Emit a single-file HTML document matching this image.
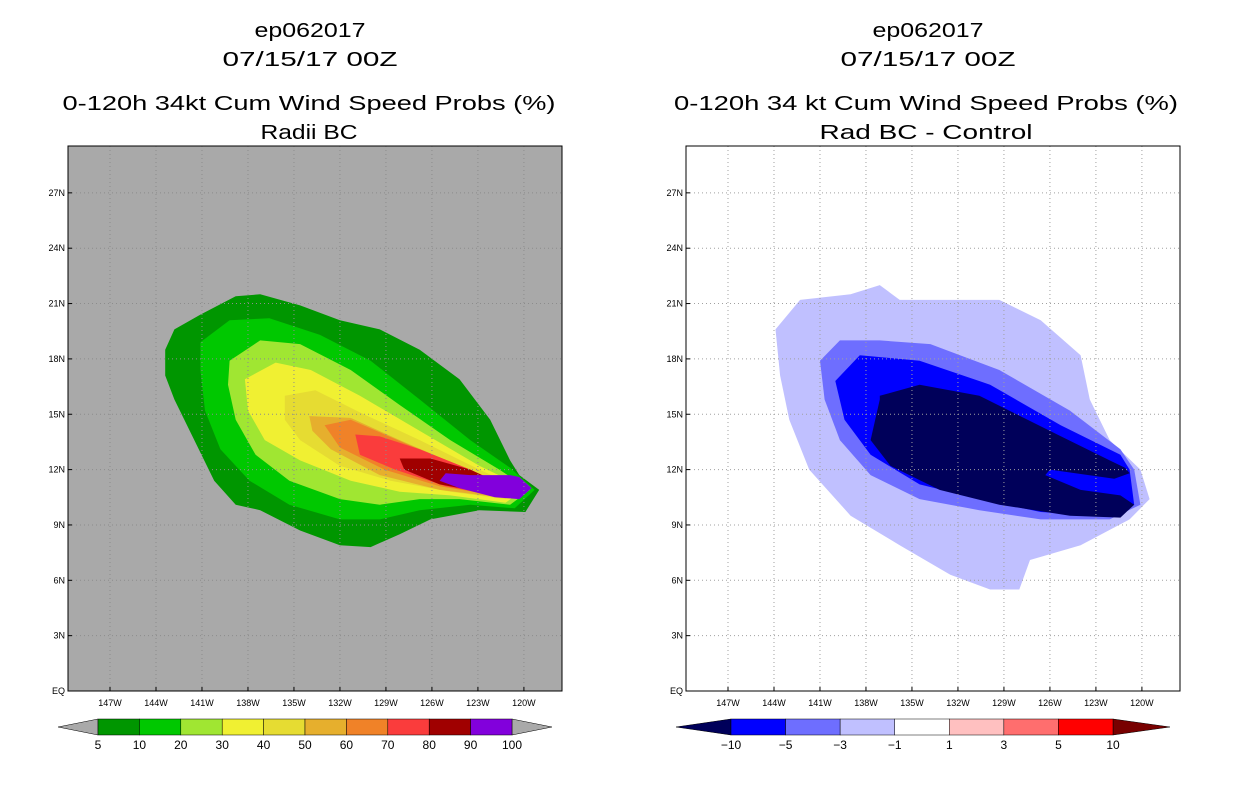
<!DOCTYPE html>
<html><head><meta charset="utf-8"><style>
body{margin:0;background:#fff;width:1236px;height:800px;overflow:hidden}
svg text{font-family:"Liberation Sans",sans-serif}
</style></head><body>
<svg id="s" width="1236" height="800">
<g font-size="20" text-anchor="middle" fill="#000">
<text x="310" y="37" textLength="111" lengthAdjust="spacingAndGlyphs">ep062017</text>
<text x="310" y="66" textLength="175" lengthAdjust="spacingAndGlyphs">07/15/17 00Z</text>
<text x="309" y="110" textLength="493" lengthAdjust="spacingAndGlyphs">0-120h 34kt Cum Wind Speed Probs (%)</text>
<text x="309" y="139" textLength="97" lengthAdjust="spacingAndGlyphs">Radii BC</text>
</g>
<g font-size="20" text-anchor="middle" fill="#000">
<text x="928" y="37" textLength="111" lengthAdjust="spacingAndGlyphs">ep062017</text>
<text x="928" y="66" textLength="175" lengthAdjust="spacingAndGlyphs">07/15/17 00Z</text>
<text x="926" y="110" textLength="504" lengthAdjust="spacingAndGlyphs">0-120h 34 kt Cum Wind Speed Probs (%)</text>
<text x="926" y="139" textLength="213" lengthAdjust="spacingAndGlyphs">Rad BC - Control</text>
</g>
<g id="L"></g>
<g id="R"></g>
<g id="CB"></g>
</svg>
<script>
const latTicks=[0,3,6,9,12,15,18,21,24,27];
const lonTicks=[147,144,141,138,135,132,129,126,123,120];
const leftLevels=[5,10,20,30,40,50,60,70,80,90,100];
const leftColors=["#009600","#00c800","#a0e632","#f0f032","#e6dc32","#e6af2d","#f08228","#fa3c3c","#a00000","#8200dc"];
const rightLevels=[-10,-5,-3,-1,1,3,5,10];
const rightColors=["#00005a","#0000ff","#6e6eff","#c0c0ff","#ffffff","#ffc0c0","#ff6e6e","#ff0000"];
const P5=[[143.4,18.5],[142.8,19.6],[141.1,20.4],[138.8,21.4],[137.2,21.5],[134.6,20.9],[132.0,20.1],[129.4,19.6],[126.8,18.5],[124.2,16.9],[122.2,14.7],[120.9,12.5],[120.3,11.7],[119.0,10.9],[119.9,9.7],[122.9,9.8],[126.1,9.3],[128.1,8.5],[130.0,7.8],[132.0,7.9],[134.6,8.7],[137.2,9.8],[138.8,10.1],[140.2,11.4],[141.5,13.6],[142.8,15.8],[143.4,17.1]];
const P10=[[141.1,18.9],[139.2,20.1],[136.6,20.2],[133.3,19.3],[130.0,17.9],[126.8,15.8],[123.5,13.6],[120.9,12.1],[119.3,10.9],[120.6,9.9],[123.5,10.1],[126.8,9.8],[129.4,9.3],[132.0,9.3],[135.3,10.1],[137.9,11.4],[139.8,13.1],[140.8,15.2],[141.1,17.4]];
const P20=[[139.2,17.9],[137.2,19.0],[134.6,18.8],[131.3,17.4],[128.1,15.5],[124.8,13.6],[121.6,12.0],[119.6,10.9],[120.9,10.1],[124.2,10.4],[126.8,10.4],[129.4,10.1],[132.0,10.4],[135.3,11.4],[137.5,12.8],[138.8,14.7],[139.3,16.6]];
const P30=[[138.2,16.9],[136.2,17.8],[133.9,17.4],[130.7,16.0],[126.8,14.1],[122.9,12.2],[119.9,11.0],[121.2,10.2],[124.8,10.6],[128.1,10.8],[131.3,11.4],[134.6,12.5],[136.9,13.6],[138.0,15.2]];
const P40=[[135.6,16.0],[133.6,16.3],[130.7,15.1],[126.8,13.6],[122.9,12.0],[120.3,11.0],[121.2,10.4],[124.8,10.8],[128.7,11.4],[132.0,12.2],[134.6,13.6],[135.6,14.7]];
const P50=[[134.0,14.9],[131.3,14.8],[128.1,13.6],[124.2,12.2],[120.6,11.0],[121.6,10.5],[125.5,10.9],[129.4,11.7],[132.6,13.1],[133.8,14.1]];
const P60=[[133.0,14.4],[131.3,14.7],[127.4,13.3],[123.5,12.0],[120.8,11.0],[121.9,10.6],[125.5,11.1],[129.1,12.0],[132.0,13.2]];
const P70=[[131.0,13.9],[129.4,13.8],[126.8,13.1],[123.5,12.0],[120.9,11.0],[121.9,10.6],[125.1,11.1],[128.4,12.0],[130.7,12.8]];
const P80=[[128.1,12.6],[126.1,12.6],[123.5,12.0],[121.2,11.1],[122.2,10.7],[125.5,11.2],[127.8,12.0]];
const P90=[[125.1,11.8],[123.5,11.7],[120.9,11.7],[120.3,11.6],[119.5,11.0],[120.3,10.4],[121.9,10.5],[124.2,11.0],[125.5,11.4]];
const leftPolys=[P5,P10,P20,P30,P40,P50,P60,P70,P80,P90];
const R1=[[143.9,19.6],[142.3,21.2],[139.0,21.5],[137.1,22.0],[135.8,21.2],[132.5,21.2],[129.3,21.2],[126.6,20.1],[124.0,18.2],[123.4,15.8],[122.1,13.6],[120.1,12.0],[119.5,10.4],[120.8,9.3],[124.0,7.9],[127.3,7.1],[128.0,5.5],[129.9,5.5],[132.5,6.3],[135.8,7.9],[139.0,9.5],[141.7,12.0],[143.0,14.7],[143.6,17.1]];
const R3=[[141.0,17.9],[139.7,19.0],[137.1,19.0],[133.8,18.8],[129.3,17.4],[124.7,15.2],[121.4,13.1],[120.5,12.0],[120.1,10.1],[122.1,9.3],[126.6,9.3],[130.6,9.8],[134.5,10.4],[137.7,11.7],[139.7,13.6],[140.7,15.8]];
const R5=[[140.0,16.8],[138.4,18.2],[134.5,17.9],[129.9,16.6],[125.3,14.4],[121.4,12.8],[120.8,12.0],[120.5,10.1],[122.7,9.5],[126.6,9.7],[130.6,10.4],[134.5,11.2],[137.7,12.8],[139.4,14.7]];
const R10=[[137.1,16.0],[134.5,16.6],[130.6,16.0],[126.0,14.1],[122.1,12.5],[121.1,12.1],[120.8,11.8],[121.8,11.5],[126.0,12.0],[126.3,11.7],[124.0,10.9],[121.4,10.6],[120.5,10.1],[121.4,9.4],[124.7,9.5],[129.3,10.1],[133.2,10.9],[136.4,12.2],[137.7,13.6],[137.1,15.8]];
const rightPolys=[R1,R3,R5,R10];
const rightPolyColors=["#c0c0ff","#6e6eff","#0000ff","#00005a"];

const NS="http://www.w3.org/2000/svg";
function mk(t,a,p){const e=document.createElementNS(NS,t);for(const k in a)e.setAttribute(k,a[k]);p.appendChild(e);return e;}
function panel(g,x0,bg,polys,cols,grid){
  const W=494,H=545,yB=691,y0=146;
  const xs=lon=>x0+42+(147-lon)*15.33;
  const ys=lat=>yB-lat*18.45;
  const r=mk('rect',{x:x0,y:y0,width:W,height:H,fill:bg},g);
  
  
  polys.forEach((p,i)=>{
    const e=mk('polygon',{points:p.map(q=>xs(q[0]).toFixed(1)+','+ys(q[1]).toFixed(1)).join(' '),fill:cols[i]},g);
    
    
  });
  lonTicks.forEach(l=>{
    const x=xs(l);
    const ln=mk('line',{x1:x,x2:x,y1:y0,y2:yB,stroke:grid,'stroke-dasharray':'1,3','stroke-width':1},g);
    
    
    const tk=mk('line',{x1:x,x2:x,y1:yB,y2:yB-4,stroke:'#000'},g);
    
    
    const t=mk('text',{x:x,y:yB+15,'font-size':9,'text-anchor':'middle'},g);t.textContent=l+'W';
    
    
  });
  latTicks.forEach(l=>{
    const y=ys(l);
    if(l>0){const ln=mk('line',{x1:x0,x2:x0+W,y1:y,y2:y,stroke:grid,'stroke-dasharray':'1,3','stroke-width':1},g);
    
    }
    const tk=mk('line',{x1:x0,x2:x0+4,y1:y,y2:y,stroke:'#000'},g);
    
    
    const t=mk('text',{x:x0-3,y:y+3,'font-size':9,'text-anchor':'end'},g);t.textContent=l==0?'EQ':l+'N';
    
    
  });
  const f=mk('rect',{x:x0,y:y0,width:W,height:H,fill:'none',stroke:'#000','stroke-width':1},g);
  
  
}
panel(document.getElementById('L'),68,'#a9a9a9',leftPolys,leftColors,'#8c8c8c');
panel(document.getElementById('R'),686,'#ffffff',rightPolys,rightPolyColors,'#a0a0a0');

function cbar(g,x0,x1,bx0,bx1,cols,labels,lc,rc){
  const y=719,h=16,n=cols.length,w=(bx1-bx0)/n;
  const a=mk('polygon',{points:`${x0},${y+h/2} ${bx0},${y} ${bx0},${y+h}`,fill:lc,stroke:'#000','stroke-width':0.5},g);
  
  
  const b=mk('polygon',{points:`${x1},${y+h/2} ${bx1},${y} ${bx1},${y+h}`,fill:rc,stroke:'#000','stroke-width':0.5},g);
  
  
  cols.forEach((c,i)=>{
    const r=mk('rect',{x:bx0+i*w,y:y,width:w,height:h,fill:c,stroke:'#000','stroke-width':0.5},g);
    
    
  });
  labels.forEach((l,i)=>{
    const t=mk('text',{x:bx0+i*w,y:749,'font-size':12,'text-anchor':'middle'},g);
    t.textContent=String(l).replace('-','\u2212');
    
    
  });
}
const cb=document.getElementById('CB');
cbar(cb,58,552,98,512,leftColors,leftLevels,'#a9a9a9','#a9a9a9');
cbar(cb,676,1170,731,1113,rightColors.slice(1),rightLevels,'#00005a','#780000');
</script>
</body></html>
